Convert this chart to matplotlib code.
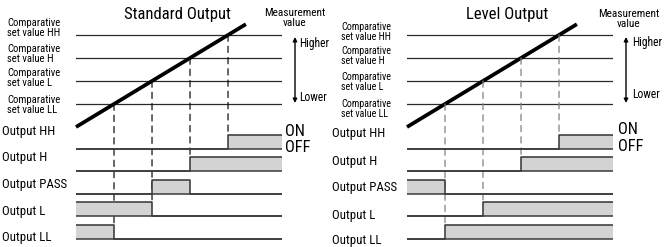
import numpy as np
import matplotlib
matplotlib.use('Agg')
import matplotlib.pyplot as plt
from matplotlib.patches import ConnectionPatch

plt.rcParams['font.family'] = ['Roboto Condensed', 'DejaVu Sans']

W, H = 667, 247

# measurement value ramp, in "set value" units (LL=1 .. HH=4)
ramp_x = [0.0, 4.47]
ramp_y = [0.0, 4.47]
set_names = ['LL', 'L', 'H', 'HH']
set_levels = [1, 2, 3, 4]
x_end = 5.42

out_names = ['HH', 'H', 'PASS', 'L', 'LL']
# output state in each range: <LL, LL..L, L..H, H..HH, >HH
std_states = {
    'HH':   [0, 0, 0, 0, 1],
    'H':    [0, 0, 0, 1, 1],
    'PASS': [0, 0, 1, 0, 0],
    'L':    [1, 1, 0, 0, 0],
    'LL':   [1, 0, 0, 0, 0],
}
lvl_states = {
    'HH':   [0, 0, 0, 0, 1],
    'H':    [0, 0, 0, 1, 1],
    'PASS': [1, 0, 0, 0, 0],
    'L':    [0, 0, 1, 1, 1],
    'LL':   [0, 1, 1, 1, 1],
}

pulse_h = 0.64


def fxy(x, y):
    return x / W, 1 - y / H


def draw_panel(fig, left, states, dash_color):
    ax_top = fig.add_axes([left / W, 1 - 127 / H, 206 / W, (127 - 21.2) / H])
    ax_top.set_xlim(0, x_end)
    ax_top.set_ylim(0, 4.6)
    ax_top.axis('off')
    for lv in set_levels:
        ax_top.axhline(lv, color='#2a2a2a', lw=0.9)
    ax_top.plot(ramp_x, ramp_y, color='black', lw=2.7, solid_capstyle='butt', clip_on=False)

    ax_bot = fig.add_axes([left / W, 0, 206 / W, 120 / H])
    ax_bot.set_xlim(0, x_end)
    ax_bot.set_ylim(-4.356, 0.978)
    ax_bot.axis('off')

    crossings = [float(np.interp(lv, ramp_y, ramp_x)) for lv in set_levels]
    edges = [ramp_x[0]] + crossings + [x_end]
    for k, name in enumerate(out_names):
        s = states[name]
        base = -k
        yy = base + pulse_h * np.array(s + [s[-1]])
        ax_bot.fill_between(edges, base, yy, step='post', color='#d3d3d3', lw=0, zorder=2)
        ax_bot.plot(edges, yy, drawstyle='steps-post', color='#333333', lw=1.1, zorder=3)
        ax_bot.axhline(base, color='#3a3a3a', lw=1.1, zorder=3)

    # dashed drop lines from each crossing to the matching output
    for name, lv, xc in zip(set_names, set_levels, crossings):
        k = out_names.index(name)
        con = ConnectionPatch(xyA=(xc, lv), coordsA=ax_top.transData,
                              xyB=(xc, -k + pulse_h), coordsB=ax_bot.transData,
                              color=dash_color, lw=0.9, linestyle=(0, (5, 4)), zorder=1)
        ax_bot.add_artist(con)
        con.set_clip_on(False)
    return ax_top, ax_bot


fig = plt.figure(figsize=(W / 100, H / 100), dpi=100)
ar = fig.add_axes([0, 0, 1, 1])
ar.set_xlim(0, W)
ar.set_ylim(H, 0)
ar.axis('off')

# left: standard output
draw_panel(fig, 76, std_states, '#111111')
fig.text(*fxy(177, 14), 'Standard Output', fontsize=12, ha='center', va='center')
for name, yc in zip(['HH', 'H', 'L', 'LL'], [28, 53.5, 77.5, 105]):
    fig.text(*fxy(7, yc), 'Comparative\nset value ' + name, fontsize=7.7,
             ha='left', va='center', linespacing=1.0)
for name, yc in zip(out_names, [131, 157, 184, 211, 237]):
    fig.text(*fxy(2, yc), 'Output ' + name, fontsize=9.3, ha='left', va='center')
fig.text(*fxy(295, 18), 'Measurement\nvalue', fontsize=8.2, ha='center', va='center',
         linespacing=1.0)
fig.text(*fxy(299, 44), 'Higher', fontsize=8.4, ha='left', va='center')
fig.text(*fxy(299, 97), 'Lower', fontsize=8.4, ha='left', va='center')
fig.text(*fxy(285, 131), 'ON', fontsize=11.8, ha='left', va='center')
fig.text(*fxy(285, 147), 'OFF', fontsize=11.8, ha='left', va='center')
ar.annotate('', xy=(295, 37), xytext=(295, 103),
            arrowprops=dict(arrowstyle='<|-|>', lw=1, color='black', mutation_scale=6,
                            shrinkA=0, shrinkB=0))

# right: level output
draw_panel(fig, 407, lvl_states, '#808080')
fig.text(*fxy(507, 15), 'Level Output', fontsize=12, ha='center', va='center')
for name, yc in zip(['HH', 'H', 'L', 'LL'], [31.7, 56.5, 82.5, 109]):
    fig.text(*fxy(341, yc), 'Comparative\nset value ' + name, fontsize=7.2,
             ha='left', va='center', linespacing=1.0)
for name, yc in zip(out_names, [133, 162, 188, 215, 240]):
    fig.text(*fxy(332, yc), 'Output ' + name, fontsize=9.3, ha='left', va='center')
fig.text(*fxy(629, 19), 'Measurement\nvalue', fontsize=8.2, ha='center', va='center',
         linespacing=1.0)
fig.text(*fxy(632, 42), 'Higher', fontsize=8.4, ha='left', va='center')
fig.text(*fxy(632, 95), 'Lower', fontsize=8.4, ha='left', va='center')
fig.text(*fxy(618, 130), 'ON', fontsize=11.8, ha='left', va='center')
fig.text(*fxy(618, 146), 'OFF', fontsize=11.8, ha='left', va='center')
ar.annotate('', xy=(626, 37), xytext=(626, 103),
            arrowprops=dict(arrowstyle='<|-|>', lw=1, color='black', mutation_scale=6,
                            shrinkA=0, shrinkB=0))

fig.savefig('out.png', dpi=100)
